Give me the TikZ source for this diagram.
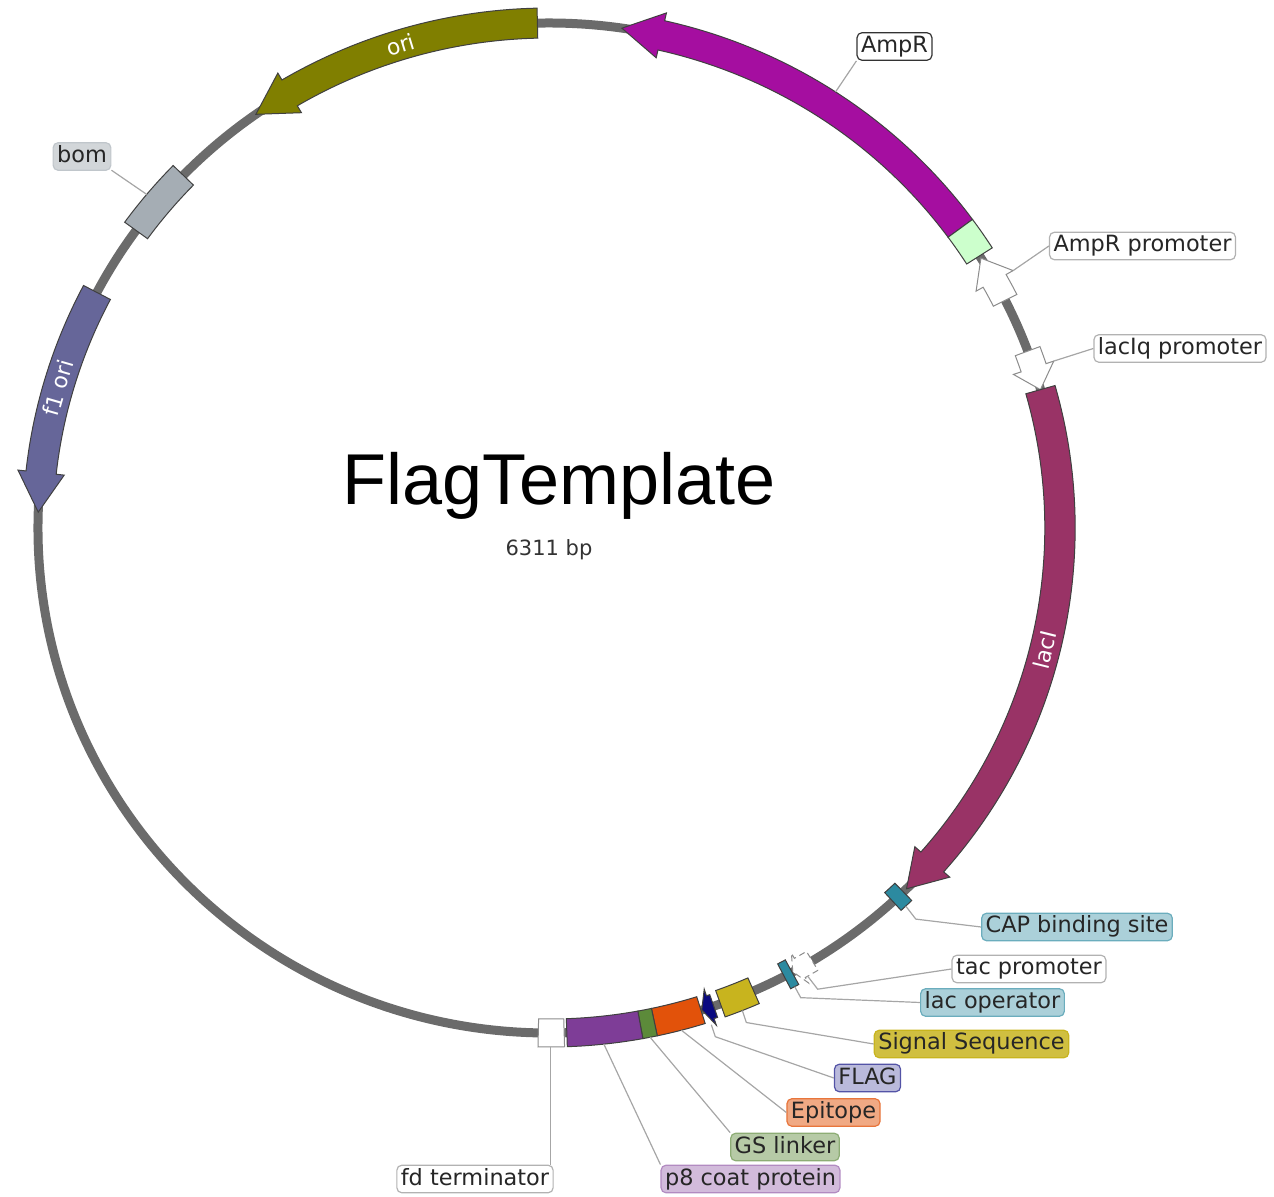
\documentclass[tikz,border=0pt]{standalone}
\usepackage{fontspec}
\newfontfamily\labelfont{DejaVu Sans}
\newfontfamily\titlefont{Liberation Sans}
\definecolor{backbone-color}{HTML}{6B6B6B}
\definecolor{ori-color}{HTML}{807F00}
\definecolor{bom-color}{HTML}{A5ADB4}
\definecolor{f1ori-color}{HTML}{666699}
\definecolor{ampr-color}{HTML}{A50EA0}
\definecolor{amprsig-color}{HTML}{CCFFCC}
\definecolor{laci-color}{HTML}{993366}
\definecolor{lacop-color}{HTML}{2C8AA0}
\definecolor{signal-color}{HTML}{C8B41E}
\definecolor{flag-color}{HTML}{0A0A80}
\definecolor{epitope-color}{HTML}{E2520A}
\definecolor{gslinker-color}{HTML}{5C8A3A}
\definecolor{p8-color}{HTML}{7E3D97}
\tikzstyle{backbone} = [draw=backbone-color, line width=4.5pt]
\tikzstyle{feature} = [draw=black!75, line width=0.5pt]
\tikzstyle{promoter} = [feature, draw=black!45, fill=white]
\tikzstyle{arcText} = [text=white, font=\labelfont\fontsize{11}{13}\selectfont]
\tikzstyle{mapLabel} = [rectangle, rounded corners=2.5pt, draw=black!30, fill=white, line width=0.6pt, inner xsep=2pt, inner ysep=1.5pt, text height=8.4pt, text depth=2.4pt, text=black!85, font=\labelfont\fontsize{11.2}{13}\selectfont]
\tikzstyle{leaderLine} = [draw=black!35, line width=0.6pt]
\newcommand{\featbox}[4]{%
  \draw[#1] ({#2}:{505+#4}) arc[start angle=#2, end angle=#3, radius=505+#4]
    -- ({#3}:{505-#4}) arc[start angle=#3, end angle=#2, radius=505-#4] -- cycle;}
\newcommand{\featarrow}[6]{%
  \draw[#1] ({#2}:{505+#5}) arc[start angle=#2, end angle=#3, radius=505+#5]
    -- ({#3}:{505+#6}) -- ({#4}:505) -- ({#3}:{505-#6})
    -- ({#3}:{505-#5}) arc[start angle=#3, end angle=#2, radius=505-#5] -- cycle;}

\begin{document}
\begin{tikzpicture}[x=0.5pt, y=0.5pt]
\useasboundingbox (-549,-669) rectangle (725,528);
\begin{scope}[xscale=1.0119]
    \draw[backbone] (0,0) circle[radius=505];
    \featarrow{feature, fill=ori-color}{91.3}{120.5}{125.0}{15}{23}
    \featbox{feature, fill=bom-color}{135.7}{143.9}{14}
    \featarrow{feature, fill=f1ori-color}{152.2}{173.7}{178.2}{15}{23}
    \featarrow{feature, fill=ampr-color}{36.4}{77.3}{81.8}{15}{23}
    \featbox{feature, fill=amprsig-color}{32.6}{36.4}{15}
    \featarrow{promoter}{26.8}{29.3}{32.3}{13}{21}
    \featarrow{promoter}{20.5}{18.5}{15.9}{13}{21}
    \featarrow{feature, fill=laci-color}{15.9}{-41.4}{-45.6}{15}{23}
    \featbox{feature, fill=lacop-color}{-46.1}{-47.7}{12}
    \featarrow{promoter, densely dashed}{-59.0}{-60.6}{-61.5}{11}{17}
    \featbox{feature, fill=lacop-color}{-61.6}{-62.6}{14}
    \featbox{feature, fill=signal-color}{-66.4}{-70.4}{14}
    \featarrow{feature, fill=flag-color}{-71.2}{-71.6}{-72.6}{12}{19}
    \featbox{feature, fill=epitope-color}{-72.7}{-78.1}{14}
    \featbox{feature, fill=gslinker-color}{-78.1}{-79.7}{14}
    \featbox{feature, fill=p8-color}{-79.7}{-88.0}{14}
    \featbox{feature, fill=white, draw=black!45}{-88.3}{-91.2}{14}

    \node[arcText, rotate=16.9] (oriText) at (106.9:505) {ori};
    \node[arcText, rotate=73.9] (f1oriText) at (163.9:505) {f1 ori};
    \node[arcText, rotate=76] (laciText) at (-14:505) {lacI};

    \coordinate (amprPt) at (57:520);
    \coordinate (amprPromPt) at (29.3:526);
    \coordinate (laciqPt) at (18.5:526);
    \coordinate (bomPt) at (140:519);
    \coordinate (capPt) at (-47:517);
    \coordinate (tacPt) at (-60.3:516);
    \coordinate (lacOpPt) at (-62.1:519);
    \coordinate (signalPt) at (-68.4:519);
    \coordinate (flagPt) at (-72.1:522);
    \coordinate (epitopePt) at (-75.4:519);
    \coordinate (gsPt) at (-78.9:519);
    \coordinate (p8Pt) at (-84:519);
    \coordinate (fdPt) at (-89.8:519);
\end{scope}

    \node[font=\titlefont\fontsize{36}{40}\selectfont, anchor=base] (mapTitle) at (10,23) {FlagTemplate};
    \node[font=\labelfont\fontsize{10.5}{12}\selectfont, text=black!80, anchor=base] (mapSize) at (0,-28) {6311 bp};

    \node[mapLabel, draw=black!80] at (345.5,481.5) (amprLbl) {AmpR};
    \node[mapLabel] at (593.5,282) (amprPromLbl) {AmpR promoter};
    \node[mapLabel] at (631,179.5) (laciqLbl) {lacIq promoter};
    \node[mapLabel, fill=bom-color!50, draw=bom-color!70] at (-467,371.5) (bomLbl) {bom};
    \node[mapLabel, fill=lacop-color!40, draw=lacop-color!70] at (528,-399) (capLbl) {CAP binding site};
    \node[mapLabel] at (480,-441) (tacLbl) {tac promoter};
    \node[mapLabel, fill=lacop-color!40, draw=lacop-color!70] at (443.5,-474.5) (lacOpLbl) {lac operator};
    \node[mapLabel, fill=signal-color!85, draw=signal-color] at (422.5,-516) (signalLbl) {Signal Sequence};
    \node[mapLabel, fill=flag-color!28, draw=flag-color!70] at (318.5,-550) (flagLbl) {FLAG};
    \node[mapLabel, fill=epitope-color!50, draw=epitope-color!80] at (284.5,-584.5) (epitopeLbl) {Epitope};
    \node[mapLabel, fill=gslinker-color!45, draw=gslinker-color!70] at (236,-619) (gsLbl) {GS linker};
    \node[mapLabel, fill=p8-color!35, draw=p8-color!60] at (201.5,-651) (p8Lbl) {p8 coat protein};
    \node[mapLabel] at (-74,-651) (fdLbl) {fd terminator};

    \draw[leaderLine] (amprLbl.south west) -- (amprPt);
    \draw[leaderLine] (amprPromLbl.west) -- (amprPromPt);
    \draw[leaderLine] (laciqLbl.west) -- (laciqPt);
    \draw[leaderLine] (bomLbl.-25) -- (bomPt);
    \draw[leaderLine] (capPt) -- ++(10,-13) -- (capLbl.west);
    \draw[leaderLine] (tacPt) -- ++(10,-13) -- (tacLbl.west);
    \draw[leaderLine] (lacOpPt) -- ++(6,-11) -- (lacOpLbl.west);
    \draw[leaderLine] (signalPt) -- ++(4,-12) -- (signalLbl.west);
    \draw[leaderLine] (flagPt) -- ++(4,-12) -- (flagLbl.west);
    \draw[leaderLine] (epitopePt) -- (epitopeLbl.west);
    \draw[leaderLine] (gsPt) -- (gsLbl.north west);
    \draw[leaderLine] (p8Pt) -- (p8Lbl.north west);
    \draw[leaderLine] (fdPt) -- (fdPt |- fdLbl.north);
\end{tikzpicture}
\end{document}
